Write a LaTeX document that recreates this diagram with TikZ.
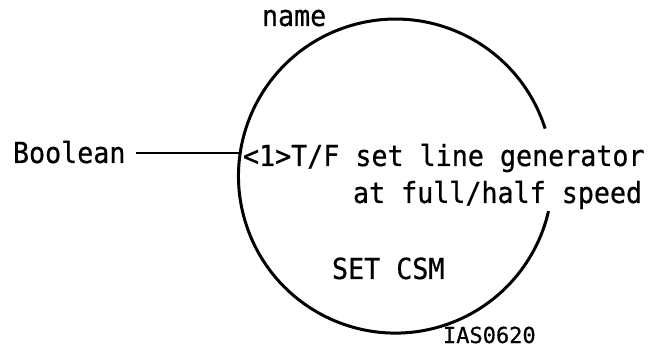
\documentclass[tikz,border=0pt]{standalone}
\usepackage{fontspec}
\newfontfamily\monof[FakeStretch=0.92,FakeBold=0.6]{DejaVu Sans Mono}
\newfontfamily\monos[FakeBold=0.6]{DejaVu Sans Mono}
\tikzset{
  lbl/.style={inner sep=0pt, outer sep=0pt, font=\monof\fontsize{29}{35}\selectfont},
  small/.style={inner sep=0pt, outer sep=0pt, font=\monos\fontsize{22}{26}\selectfont},
  ring/.style={line width=3pt},
  wire/.style={line width=2pt}
}
\begin{document}
\begin{tikzpicture}[x=1pt,y=1pt]
\useasboundingbox (0,0) rectangle (651,351);
\node[circle, minimum size=314pt, inner sep=0pt, outer sep=0pt, draw=none] (csm) at (395,176.5) {};
\draw[ring] (csm.17.6) arc[start angle=17.6, end angle=347.1, radius=157pt];
\node[lbl, anchor=base west] (bool) at (13,188) {Boolean};
\node[lbl, anchor=base west] (name) at (262,325) {name};
\node[lbl, anchor=base west] (l1) at (243,185) {<1>T/F set line generator};
\node[lbl, anchor=base west] (l2) at (353,148) {at full/half speed};
\node[lbl, anchor=base west] (set) at (332,72) {SET CSM};
\node[small, anchor=base west] (fig) at (443,8) {IAS0620};
\path (bool.east) ++(11,0) coordinate (bs);
\draw[wire] (csm.172.5 -| bs) -- (csm.172.5);
\end{tikzpicture}
\end{document}
